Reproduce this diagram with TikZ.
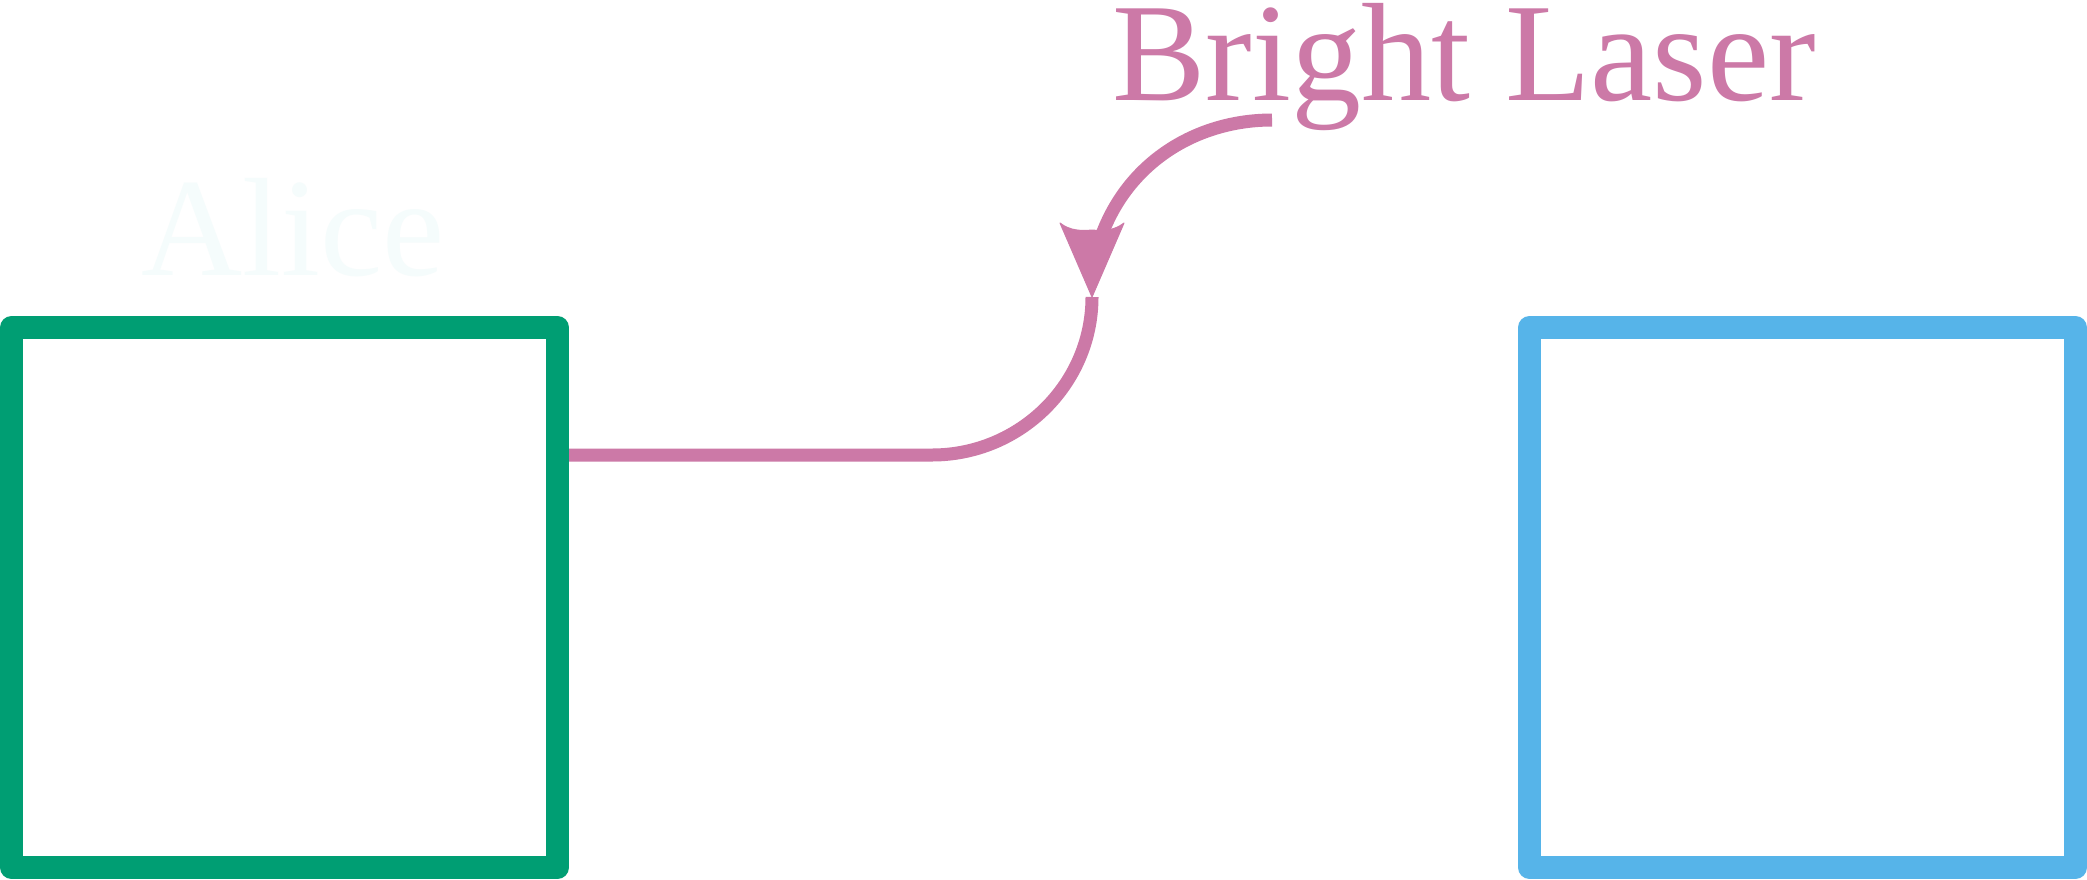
\documentclass[tikz,border=0pt]{standalone}
\usepackage{fontspec}
\setmainfont{Liberation Serif}
\definecolor{okgreen}{RGB}{0,158,115}
\definecolor{okblue}{RGB}{86,180,233}
\definecolor{okpink}{RGB}{204,121,167}
\definecolor{ghost}{RGB}{245,252,252}
\begin{document}
\begin{tikzpicture}[x=1pt,y=-1pt,
  boxstyle/.style={draw, line width=23pt, line join=round, minimum width=546pt, minimum height=540pt, inner sep=0pt},
  bigtext/.style={inner sep=0pt, font=\fontsize{140}{140}\selectfont},
  beamline/.style={draw=okpink, line width=13pt},
  headstyle/.style={fill=okpink, draw=okpink, line width=1pt, line join=round}]
\useasboundingbox[fill=white] (0,0) rectangle (2087,879);
\node[boxstyle, draw=okgreen] (alicebox) at (284.5,597.5) {};
\node[boxstyle, draw=okblue] (bobbox) at (1802.5,597.5) {};
\node[bigtext, text=ghost, anchor=base west] (alice) at (141,275) {Alice};
\node[bigtext, text=okpink, anchor=base west] (laser) at (1112,100) {Bright Laser};
\coordinate (start) at (1272,120);
\coordinate (shaftend) at (1100,240);
\coordinate (tip) at (1092,297);
\coordinate (bend) at (932,455);
\coordinate (beam) at (569,455);
\draw[beamline] (start) .. controls (1196,120) and (1126,163) .. (shaftend);
\path[headstyle, shift={(tip)}] (0,0) -- (-32,-74)
  .. controls (-22,-66) and (-10,-66) .. (0,-67)
  .. controls (10,-66) and (22,-66) .. (32,-74) -- cycle;
\draw[beamline] (tip) .. controls (1092,384) and (1020,455) .. (bend) -- (beam);
\end{tikzpicture}
\end{document}
